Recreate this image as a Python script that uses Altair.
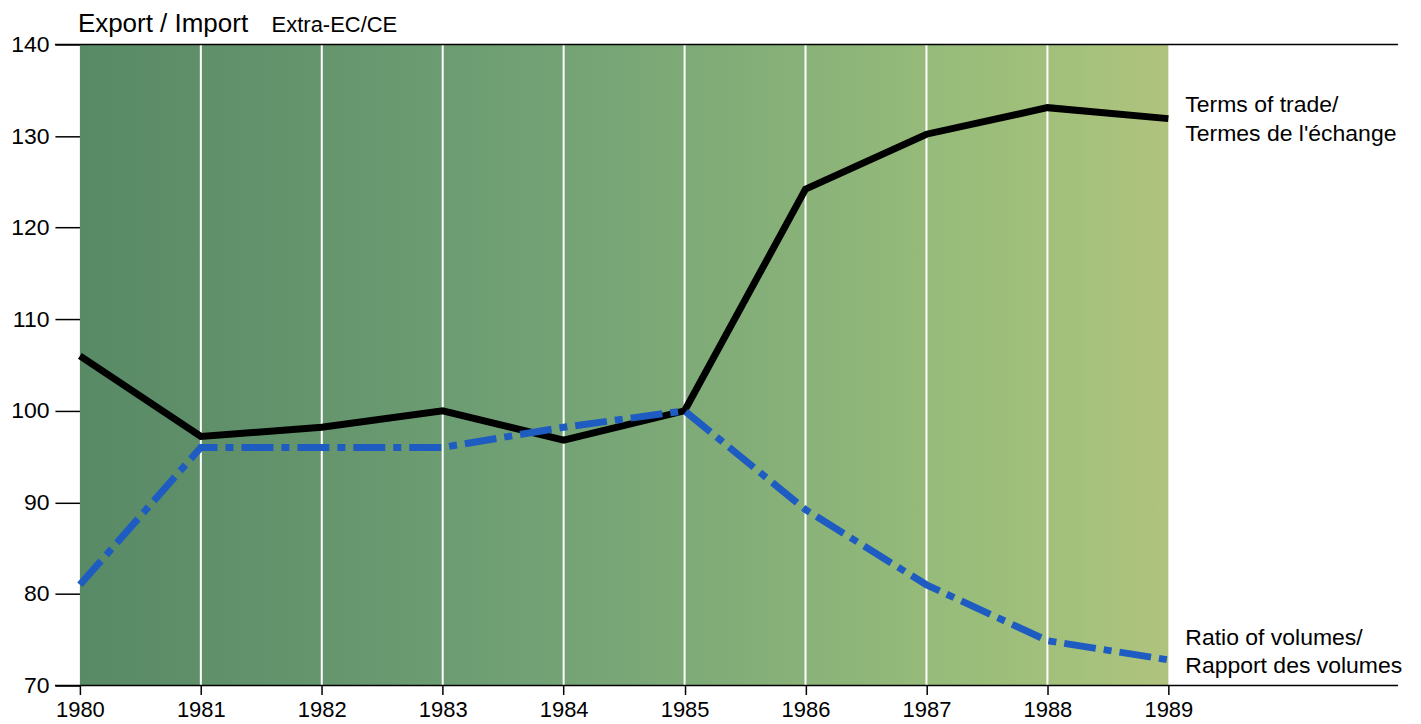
import altair as alt
import pandas as pd

years = [1980, 1981, 1982, 1983, 1984, 1985, 1986, 1987, 1988, 1989]
terms_of_trade = [106, 97.2, 98.2, 100, 96.8, 100, 124.2, 130.2, 133.1, 131.9]
ratio_volumes = [81, 96, 96, 96, 98.2, 100, 89.2, 81, 74.9, 72.8]
grid_years = [1981, 1982, 1983, 1984, 1985, 1986, 1987, 1988]
y_ticks = [70, 80, 90, 100, 110, 120, 130, 140]

FONT = "Liberation Sans"

df = pd.DataFrame({"year": years, "tot": terms_of_trade, "ratio": ratio_volumes})
grid_df = pd.DataFrame({"year": grid_years})

xs = alt.Scale(domain=[1980, 1989], nice=False, zero=False)
ys = alt.Scale(domain=[70, 140], nice=False, zero=False)

bg = alt.Chart().mark_rect(
    color=alt.Gradient(
        gradient="linear", x1=0, x2=1, y1=0, y2=0,
        stops=[
            alt.GradientStop(color="#588a66", offset=0),
            alt.GradientStop(color="#64946c", offset=0.2),
            alt.GradientStop(color="#70a074", offset=0.4),
            alt.GradientStop(color="#82ad78", offset=0.6),
            alt.GradientStop(color="#98bc7a", offset=0.8),
            alt.GradientStop(color="#a6c27c", offset=0.93),
            alt.GradientStop(color="#b0c27e", offset=1),
        ],
    )
).encode(
    x=alt.X(datum=1980, scale=xs, type="quantitative",
            axis=alt.Axis(values=years, format="d", title=None, domain=False,
                          tickSize=9, tickColor="black", tickWidth=1.5,
                          labelFontSize=22, labelFont=FONT, labelColor="black",
                          labelPadding=5, labelFlush=False, labelOverlap=False,
                          grid=False)),
    x2=alt.datum(1989),
    y=alt.Y(datum=70, scale=ys, type="quantitative",
            axis=alt.Axis(values=y_ticks, title=None, domain=False,
                          tickSize=25, tickColor="black", tickWidth=1.5,
                          labelFontSize=23, labelFont=FONT, labelColor="black",
                          labelPadding=6, labelFlush=False, labelOverlap=False,
                          grid=False)),
    y2=alt.datum(140),
)

grid = alt.Chart(grid_df).mark_rule(color="white", strokeWidth=2).encode(
    x=alt.X("year:Q", scale=xs),
    y=alt.datum(70), y2=alt.datum(140),
)

frame = alt.Chart(pd.DataFrame({"v": [70, 140]})).mark_rule(color="black", strokeWidth=1.5).encode(
    y=alt.Y("v:Q", scale=ys),
    x=alt.value(-25), x2=alt.value(1320),
)

tot_line = alt.Chart(df).mark_line(color="black", strokeWidth=7, strokeJoin="miter").encode(
    x=alt.X("year:Q", scale=xs), y=alt.Y("tot:Q", scale=ys)
)

ratio_line = alt.Chart(df).mark_line(color="#1f5cc2", strokeWidth=7,
                                     strokeDash=[32, 8, 8, 8]).encode(
    x=alt.X("year:Q", scale=xs), y=alt.Y("ratio:Q", scale=ys)
)

last = df.iloc[[-1]]

def label(text, col, dy):
    return alt.Chart(last).mark_text(
        text=text, align="left", baseline="middle", dx=17, dy=dy,
        fontSize=23, font=FONT, color="black"
    ).encode(x=alt.X("year:Q", scale=xs), y=alt.Y(f"{col}:Q", scale=ys))

labels = (
    label("Terms of trade/", "tot", -14)
    + label("Termes de l'échange", "tot", 15)
    + label("Ratio of volumes/", "ratio", -22)
    + label("Rapport des volumes", "ratio", 6)
)

title1 = alt.Chart(last).mark_text(
    text="Export / Import", align="left", baseline="middle", fontSize=26,
    font=FONT, color="black", dy=-20, dx=-2
).encode(x=alt.datum(1980), y=alt.datum(140))
title2 = alt.Chart(last).mark_text(
    text="Extra-EC/CE", align="left", baseline="middle", fontSize=22,
    font=FONT, color="black", dy=-19, dx=192
).encode(x=alt.datum(1980), y=alt.datum(140))

chart = alt.layer(bg, grid, frame, tot_line, ratio_line, labels, title1, title2).properties(
    width=1090, height=642,
    autosize=alt.AutoSizeParams(type="none"),
    padding={"left": 72, "top": 36, "right": 245, "bottom": 38},
).configure_view(stroke=None)

chart.save("out.html", embed_options={"renderer": "svg", "actions": False})
